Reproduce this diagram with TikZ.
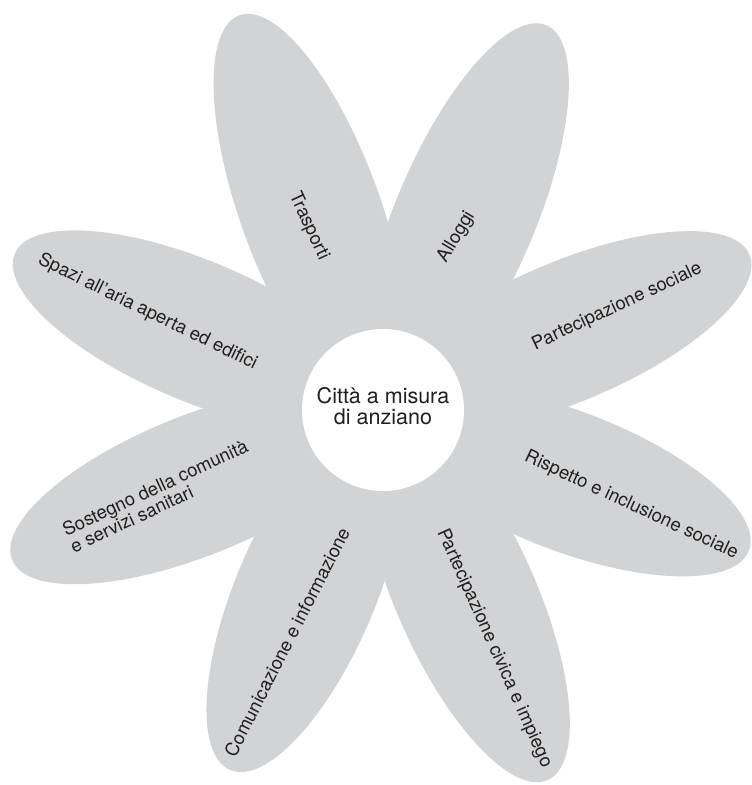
\documentclass[tikz,border=0pt]{standalone}
\usepackage{fontspec}
\setmainfont{TeX Gyre Heros}
\usepackage{xcolor}
\usepackage{tikz}

\definecolor{petalgrey}{RGB}{209,211,212}
\definecolor{inkgrey}{RGB}{35,31,32}

\tikzset{
    petal/.style={fill=petalgrey},
    petaltext/.style={text=inkgrey,inner sep=0pt,
        font=\fontsize{18.5}{18.5}\selectfont},
    hub/.style={circle,fill=white,inner sep=0pt,minimum size=162pt}
}

\begin{document}
\begin{tikzpicture}[x=1pt,y=1pt]
        \useasboundingbox (-383,-375) rectangle (369,410);
        % Petals (ellipses rotated round the centre)
        \fill[petal,rotate=110] (212,0) ellipse (208 and 70);
        \fill[petal,rotate=67] (211,0) ellipse (207 and 70);
        \fill[petal,rotate=23] (201,0) ellipse (197 and 70);
        \fill[petal,rotate=-21] (198,0) ellipse (194 and 70);
        \fill[petal,rotate=-66] (204.5,0) ellipse (200.5 and 70);
        \fill[petal,rotate=247] (197.5,0) ellipse (193.5 and 70);
        \fill[petal,rotate=202] (202,0) ellipse (198 and 70);
        \fill[petal,rotate=157] (202,0) ellipse (198 and 70);

        % Centre
        \node[hub] (centro) at (0,0) {};
        \node[petaltext,align=center,font=\fontsize{21.5}{21}\selectfont]
            (titolo) at (0,4) {Città a misura\\ di anziano};

        % Petal labels
        \node[petaltext,rotate=-65] (trasporti) at (112:198) {Trasporti};
        \node[petaltext,rotate=59] (alloggi) at (67:188) {Alloggi};
        \node[petaltext,rotate=25] (partsociale) at (23.8:256) {Partecipazione sociale};
        \node[petaltext,rotate=-25] (rispetto) at (-21:266) {Rispetto e inclusione sociale};
        \node[petaltext,rotate=-66] (partcivica) at (-65:263) {Partecipazione civica e impiego};
        \node[petaltext,rotate=63] (comunicazione) at (247.5:251) {Comunicazione e informazione};
        \node[petaltext,rotate=25,align=left] (sostegno) at (201:240) {Sostegno della comunità\\ e servizi sanitari};
        \node[petaltext,rotate=-26] (spazi) at (157.4:255) {Spazi all’aria aperta ed edifici};
\end{tikzpicture}
\end{document}
